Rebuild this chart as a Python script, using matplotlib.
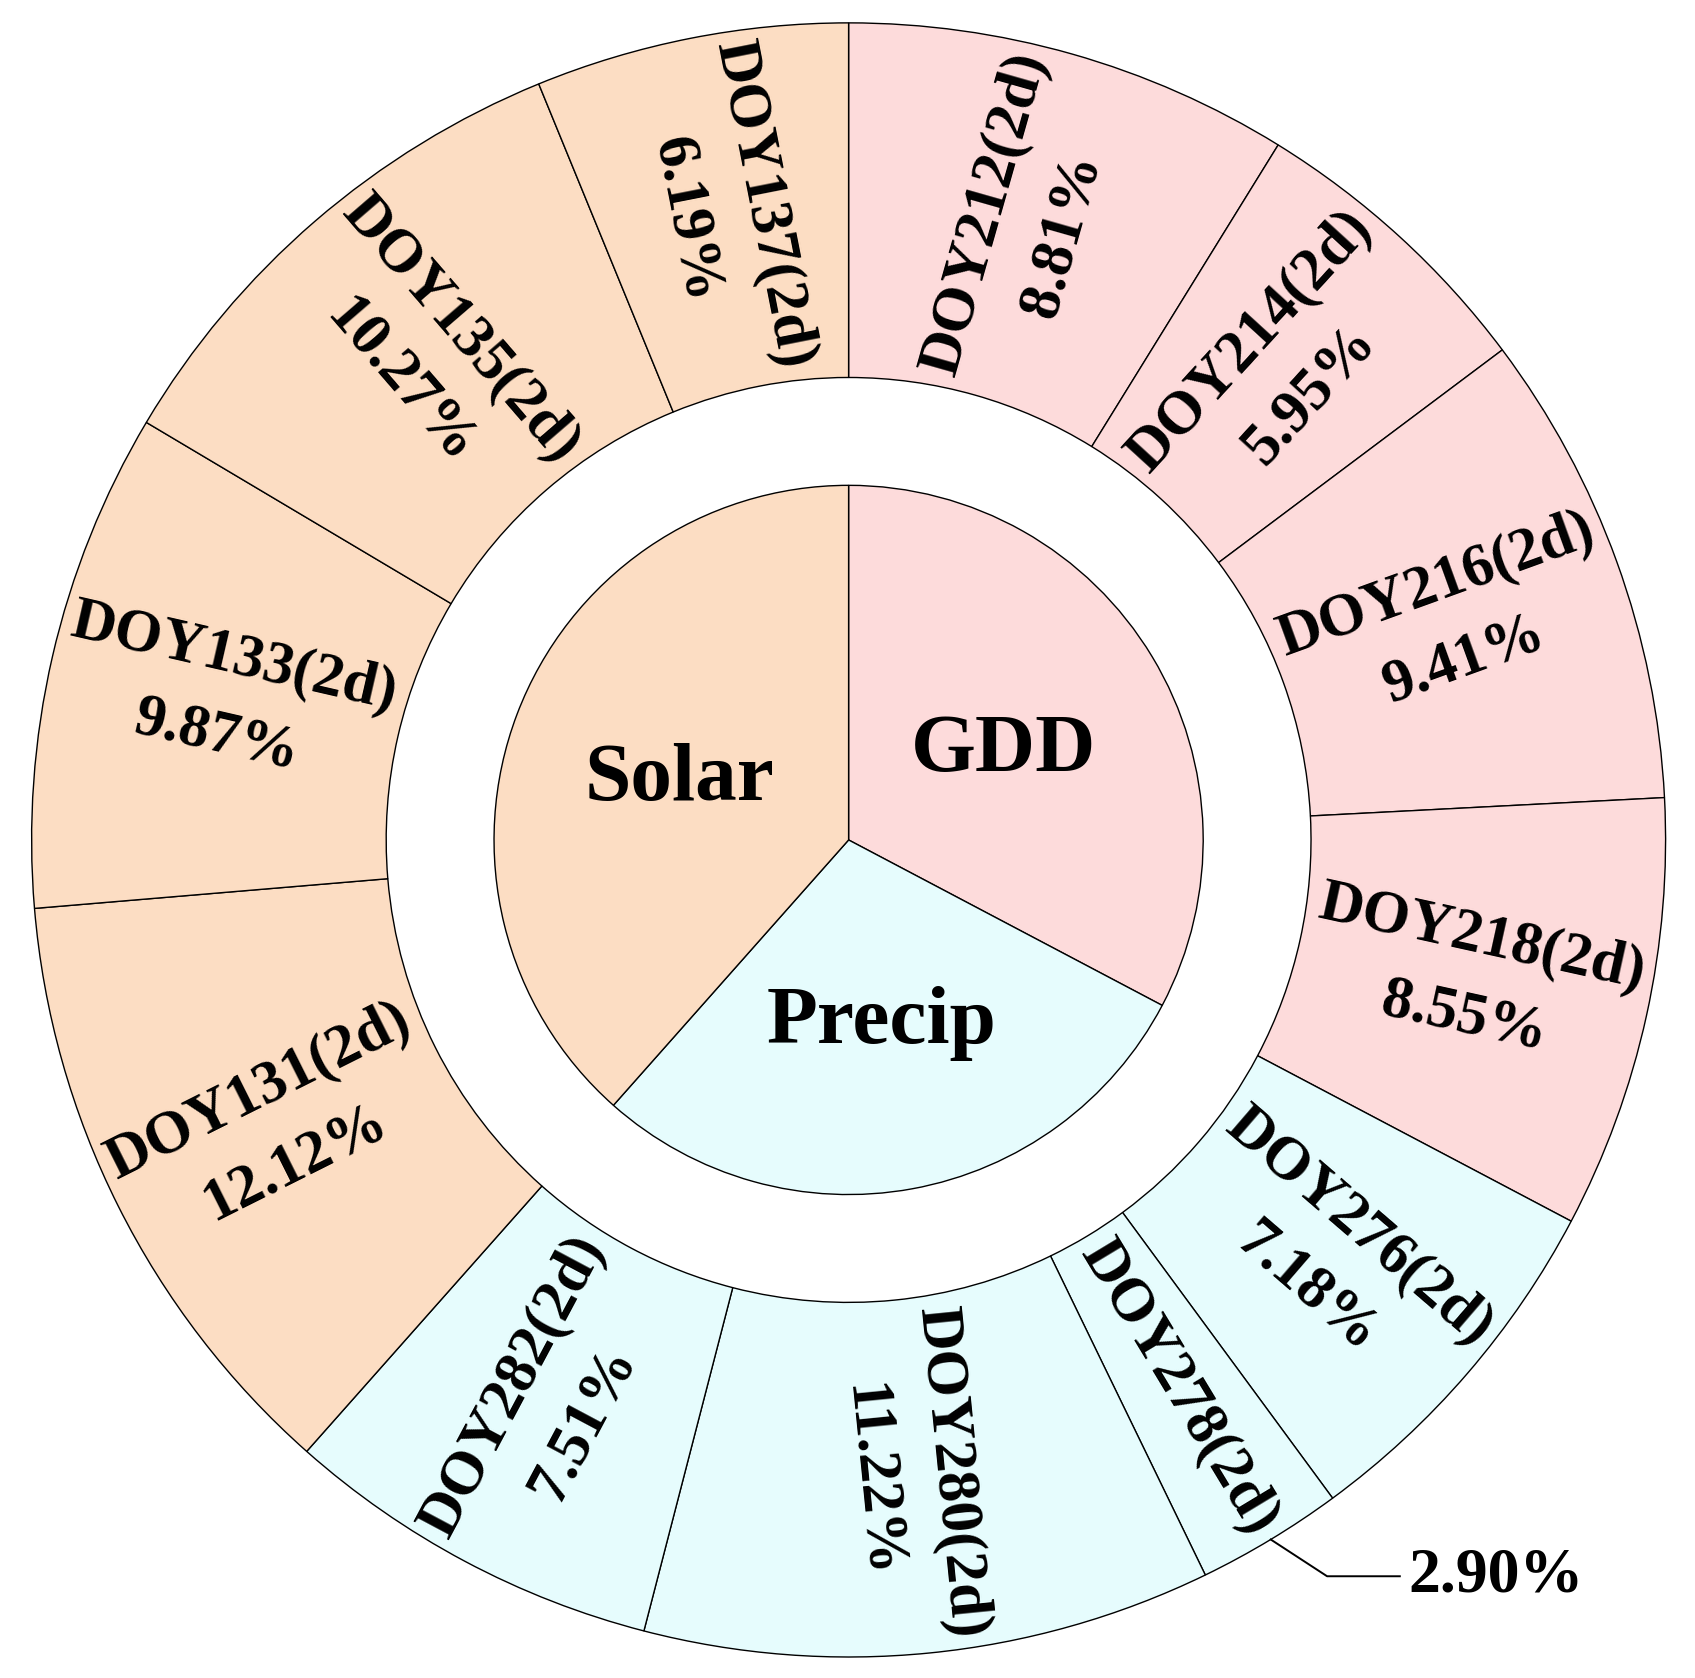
import matplotlib.pyplot as plt
import numpy as np

plt.rcParams['font.family'] = ['Liberation Serif', 'DejaVu Serif']
plt.rcParams['font.weight'] = 'bold'

# 內圈分類
groups = ['GDD', 'Precip', 'Solar']
group_colors = ['#FDDBDB', '#E6FCFD', '#FCDDC3']

# 外圈各時段
doy_labels = ['DOY212(2d)', 'DOY214(2d)', 'DOY216(2d)', 'DOY218(2d)',
              'DOY276(2d)', 'DOY278(2d)', 'DOY280(2d)', 'DOY282(2d)',
              'DOY131(2d)', 'DOY133(2d)', 'DOY135(2d)', 'DOY137(2d)']
doy_values = [8.81, 5.95, 9.41, 8.55,
              7.18, 2.90, 11.22, 7.51,
              12.12, 9.87, 10.27, 6.19]
doy_group = [0, 0, 0, 0, 1, 1, 1, 1, 2, 2, 2, 2]

group_values = [sum(v for v, g in zip(doy_values, doy_group) if g == k) for k in range(3)]

fig = plt.figure(figsize=(16.95, 16.78), dpi=100)
ax = fig.add_axes([0, 0, 1, 1])

r_in = 0.434
edge = dict(edgecolor='black', linewidth=1.0)

outer, _ = ax.pie(doy_values, radius=1.0, startangle=90, counterclock=False,
                  colors=[group_colors[g] for g in doy_group],
                  wedgeprops=dict(width=1 - 0.566, **edge))
inner, _ = ax.pie(group_values, radius=r_in, startangle=90, counterclock=False,
                  colors=group_colors, wedgeprops=edge)

# 內圈文字
for w, name in zip(inner, groups):
    a = np.deg2rad((w.theta1 + w.theta2) / 2)
    ax.text(0.222 * np.cos(a), 0.222 * np.sin(a) - 0.006, name, ha='center', va='center',
            fontsize=60, fontweight='bold')

# 外圈文字，沿半徑方向旋轉
r_mid = (0.566 + 1.0) / 2
for w, name, v in zip(outer, doy_labels, doy_values):
    mid = (w.theta1 + w.theta2) / 2
    mid = (mid + 180) % 360 - 180
    a = np.deg2rad(mid)
    rot = mid if -90 <= mid <= 90 else mid - 180
    if v < 4:
        txt = name
        # 小扇區的百分比放外面，加引線
        x0, y0 = np.cos(a), np.sin(a)
        x1, y1 = x0 + 0.069, y0 - 0.045
        ax.plot([x0, x1, x1 + 0.089], [y0, y1, y1], color='black', lw=1.4)
        ax.text(x1 + 0.100, y1, f'{v:.2f}%', ha='left', va='center',
                fontsize=46, fontweight='bold')
    else:
        txt = f'{name}\n{v:.2f}%'
    ax.text(r_mid * np.cos(a), r_mid * np.sin(a), txt, ha='center', va='center',
            rotation=rot, rotation_mode='anchor', multialignment='center',
            linespacing=1.55, fontsize=44, fontweight='bold')

ax.set_xlim(-1.0387, 1.036)
ax.set_ylim(-1.0257, 1.028)
ax.set_aspect('auto')
ax.axis('off')

fig.savefig('out.png', dpi=100)
